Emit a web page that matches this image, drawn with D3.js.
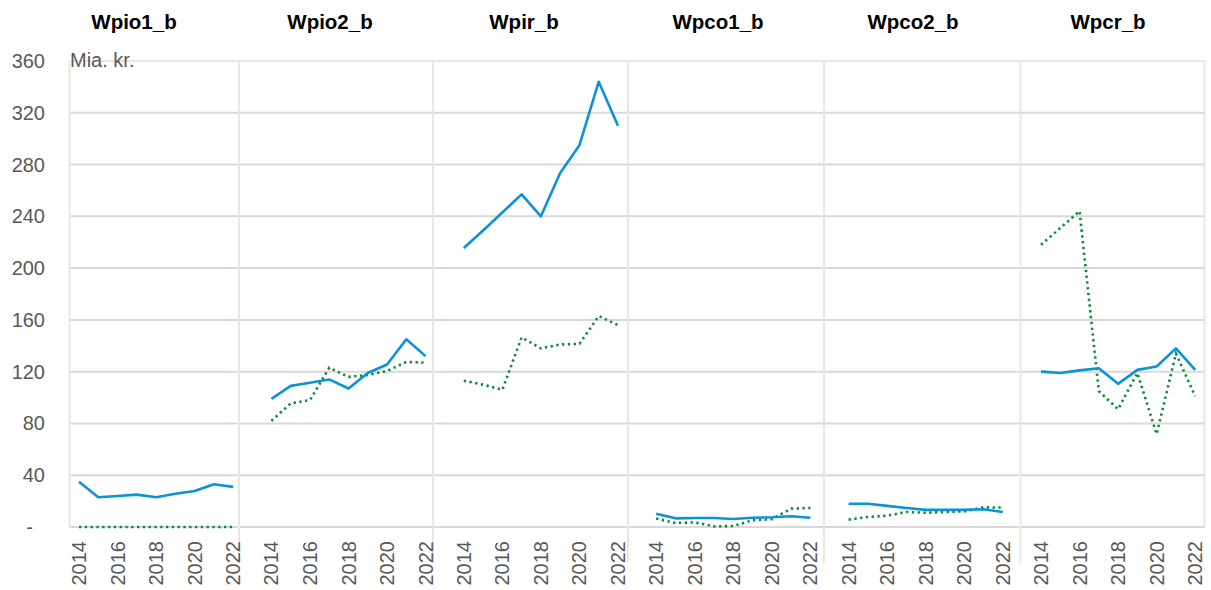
<!DOCTYPE html>
<html><head><meta charset="utf-8">
<script src="https://cdn.jsdelivr.net/npm/d3@7"></script>
<style>
html,body{margin:0;padding:0;background:#fff;}
svg{display:block;font-family:"Liberation Sans",Arial,sans-serif;}
</style></head>
<body><svg id="chart" width="1211" height="590"></svg>
<script>
const years = [2014, 2015, 2016, 2017, 2018, 2019, 2020, 2021, 2022];
const yearTickLabels = ["2014", "2016", "2018", "2020", "2022"];
const panelNames = ["Wpio1_b", "Wpio2_b", "Wpir_b", "Wpco1_b", "Wpco2_b", "Wpcr_b"];
const yTicks = [0, 40, 80, 120, 160, 200, 240, 280, 320, 360];
const yTickLabels = ["-", "40", "80", "120", "160", "200", "240", "280", "320", "360"];
const unitLabel = "Mia. kr.";

const wpio1Solid  = [35, 23, 24, 25, 23, 25.7, 27.8, 33, 31];
const wpio1Dotted = [0, 0, 0, 0, 0, 0, 0, 0, 0];
const wpio2Solid  = [99, 109, 111.5, 114, 107, 119, 125.5, 145, 132];
const wpio2Dotted = [82, 95.5, 98, 123, 116, 117.5, 120.5, 127.5, 127];
const wpirSolid   = [215.5, 229, 243, 257, 240, 273.5, 295, 344, 310];
const wpirDotted  = [113, 110, 106, 146.5, 138, 141, 141.5, 163, 156];
const wpco1Solid  = [10.3, 6.7, 7, 7, 6.2, 7.2, 7.5, 8.3, 7.2];
const wpco1Dotted = [6.5, 3.1, 3.6, 0.5, 0.8, 5.2, 6, 14.2, 14.7];
const wpco2Solid  = [18, 18, 16.3, 14.7, 13.2, 13.2, 13.2, 13.7, 11.6];
const wpco2Dotted = [5.7, 7.7, 8.8, 11.6, 11, 11.6, 12.1, 15.2, 15];
const wpcrSolid   = [120, 119, 121, 122.7, 110.6, 121.4, 124, 138, 121.4];
const wpcrDotted  = [218, 231, 244, 105, 91, 119, 71.7, 134, 101];

const solidSeries  = [wpio1Solid, wpio2Solid, wpirSolid, wpco1Solid, wpco2Solid, wpcrSolid];
const dottedSeries = [wpio1Dotted, wpio2Dotted, wpirDotted, wpco1Dotted, wpco2Dotted, wpcrDotted];

// layout
const plotTop = 61, plotBottom = 527;
const firstX = 79, panelStep = 192.4, dataSpan = 154.2;
const borders = [69.5, 239, 433, 628, 824, 1020.5, 1204.5];
const titleCenters = [134, 330, 524, 718, 913, 1108];
const blue = "#0a93d6", green = "#0b8a3c";
const gridGray = "#d9d9d9", beige = "#ebe7dc", textGray = "#595959";

const svg = d3.select("#chart");
const y = d3.scaleLinear().domain([0, 360]).range([plotBottom, plotTop]);

// horizontal gridlines
svg.append("g").selectAll("line").data(yTicks).join("line")
  .attr("x1", borders[0]).attr("x2", borders[borders.length - 1])
  .attr("y1", d => y(d)).attr("y2", d => y(d))
  .attr("stroke", d => d === 360 ? beige : gridGray)
  .attr("stroke-width", 2);

// vertical panel borders
svg.append("g").selectAll("line").data(borders).join("line")
  .attr("x1", d => d).attr("x2", d => d)
  .attr("y1", plotTop)
  .attr("y2", (d, i) => (i === 0 || i === borders.length - 1) ? plotBottom : 563)
  .attr("stroke", beige).attr("stroke-width", 2);

// y tick labels
svg.append("g").selectAll("text").data(yTicks).join("text")
  .attr("x", (d, i) => yTickLabels[i] === "-" ? 33 : 45)
  .attr("y", d => y(d)).attr("dy", "0.35em")
  .attr("text-anchor", "end")
  .attr("font-size", 20).attr("fill", textGray)
  .text((d, i) => yTickLabels[i]);

svg.append("text").attr("x", 70).attr("y", 67)
  .attr("font-size", 20).attr("fill", textGray).text(unitLabel);

panelNames.forEach((name, p) => {
  const x0 = firstX + p * panelStep;
  const x = d3.scaleLinear().domain([years[0], years[years.length - 1]]).range([x0, x0 + dataSpan]);
  const g = svg.append("g");

  g.append("text").attr("x", titleCenters[p]).attr("y", 29)
    .attr("text-anchor", "middle").attr("font-size", 20.5).attr("font-weight", "bold")
    .attr("fill", "#000").text(name);

  const line = d3.line().x((d, i) => x(years[i])).y(d => y(d));

  g.append("path").datum(dottedSeries[p]).attr("d", line)
    .attr("fill", "none").attr("stroke", green).attr("stroke-width", 2.6)
    .attr("stroke-dasharray", "2.3 3.5");

  g.append("path").datum(solidSeries[p]).attr("d", line)
    .attr("fill", "none").attr("stroke", blue).attr("stroke-width", 2.6)
    .attr("stroke-linejoin", "round");

  g.selectAll("text.xt").data(yearTickLabels).join("text")
    .attr("class", "xt")
    .attr("transform", d => `translate(${x(+d)},541) rotate(-90)`)
    .attr("dy", "0.35em").attr("text-anchor", "end")
    .attr("font-size", 20).attr("fill", textGray)
    .text(d => d);
});
</script></body></html>
